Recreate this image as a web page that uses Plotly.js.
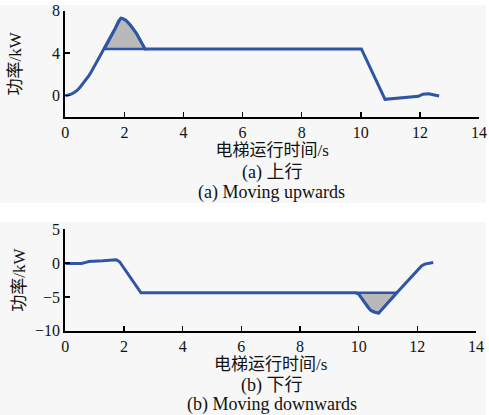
<!DOCTYPE html>
<html>
<head>
<meta charset="utf-8">
<script src="https://cdn.plot.ly/plotly-3.0.1.min.js"></script>
<style>html,body{margin:0;padding:0;background:#fff;}#chart{width:489px;height:415px;}</style>
</head>
<body>
<div id="chart"></div>
<script>
// (a) Moving upwards: time (s) and power (kW)
const upTime  = [0, 0.1, 0.2, 0.3, 0.4, 0.5, 0.6, 0.7, 0.8, 0.9, 1.0, 1.1, 1.2, 1.34, 1.5, 1.6, 1.7, 1.8, 1.88, 1.95, 2.05, 2.2, 2.3, 2.4, 2.5, 2.6, 2.7,
                 4, 6, 8, 10.02, 10.82, 11.0, 11.2, 11.5, 11.77, 11.95, 12.1, 12.2, 12.3, 12.45, 12.65];
const upPower = [0, 0.05, 0.15, 0.3, 0.5, 0.8, 1.15, 1.5, 1.9, 2.35, 2.85, 3.35, 3.85, 4.45, 5.3, 5.85, 6.4, 7.0, 7.3, 7.25, 7.1, 6.65, 6.3, 5.9, 5.4, 4.85, 4.4,
                 4.4, 4.4, 4.4, 4.4, -0.34, -0.3, -0.25, -0.2, -0.15, -0.05, 0.15, 0.2, 0.18, 0.1, -0.03];
const upRated = 4.4;
const upShade = [1.34, 2.7];

// (b) Moving downwards
const downTime  = [0, 0.55, 0.7, 0.8, 1.28, 1.74, 1.85, 2.58, 4, 6, 8, 9.9, 10.0, 10.1, 10.2, 10.3, 10.4, 10.5, 10.6, 10.68,
                   11.3, 11.97, 12.05, 12.15, 12.25, 12.4, 12.54];
const downPower = [-0.05, -0.05, 0.1, 0.24, 0.34, 0.49, 0.2, -4.4, -4.4, -4.4, -4.4, -4.4, -4.6, -5.2, -5.9, -6.5, -6.95, -7.2, -7.35, -7.4,
                   -4.4, -1.14, -0.75, -0.4, -0.15, 0.02, 0.09];
const downRated = -4.4;
const downShade = [9.9, 11.3];

const xTicks = [0, 2, 4, 6, 8, 10, 12, 14];
const upTicks = [0, 4, 8];
const downTicks = [-10, -5, 0, 5];

const xTitle = '电梯运行时间/s';
const yTitle = '功率/kW';
const capA1 = '(a) 上行', capA2 = '(a) Moving upwards';
const capB1 = '(b) 下行', capB2 = '(b) Moving downwards';

const BLUE = '#2f55a5', GRAY = '#b9b9b9';

function shadePoly(xs, ys, range, base) {
  const px = [], py = [];
  for (let i = 0; i < xs.length; i++) {
    if (xs[i] >= range[0] && xs[i] <= range[1]) { px.push(xs[i]); py.push(ys[i]); }
  }
  px.push(range[1], range[0]); py.push(base, base);
  return {x: px, y: py};
}
const sA = shadePoly(upTime, upPower, upShade, upRated);
const sB = shadePoly(downTime, downPower, downShade, downRated);

const traces = [
  {x: sA.x, y: sA.y, xaxis: 'x', yaxis: 'y', mode: 'lines', fill: 'toself', fillcolor: GRAY,
   line: {color: BLUE, width: 2.5}, hoverinfo: 'skip', showlegend: false},
  {x: upTime, y: upPower, xaxis: 'x', yaxis: 'y', mode: 'lines', line: {color: BLUE, width: 3}, showlegend: false},
  {x: sB.x, y: sB.y, xaxis: 'x2', yaxis: 'y2', mode: 'lines', fill: 'toself', fillcolor: GRAY,
   line: {color: BLUE, width: 2.5}, hoverinfo: 'skip', showlegend: false},
  {x: downTime, y: downPower, xaxis: 'x2', yaxis: 'y2', mode: 'lines', line: {color: BLUE, width: 3}, showlegend: false}
];

const tickFont = {family: 'Liberation Serif, Times New Roman, serif', size: 16, color: '#111'};
const titleFont = {family: 'Liberation Serif, Noto Sans CJK SC, serif', size: 17, color: '#111'};
const capFont = {family: 'Liberation Serif, Noto Sans CJK SC, serif', size: 18, color: '#111'};

const xBase = {range: [0, 14], tickvals: xTicks, ticks: 'inside', ticklen: 5, tickwidth: 1.5, tickcolor: '#000',
  showline: true, linecolor: '#000', linewidth: 2, showgrid: false, zeroline: false, tickfont: tickFont,
  fixedrange: true};
const yBase = {ticks: 'inside', ticklen: 5, tickwidth: 1.5, tickcolor: '#000', showline: true, linecolor: '#000',
  linewidth: 2, showgrid: false, zeroline: false, tickfont: tickFont, fixedrange: true};

const layout = {
  width: 489, height: 415,
  margin: {l: 0, r: 0, t: 0, b: 0},
  paper_bgcolor: '#ffffff', plot_bgcolor: 'rgba(0,0,0,0)',
  showlegend: false,
  xaxis: Object.assign({}, xBase, {domain: [0.1335, 0.9796], anchor: 'y',
    title: {text: xTitle, font: titleFont, standoff: 4}}),
  yaxis: Object.assign({}, yBase, {domain: [0.7181, 0.9742], range: [-2, 8], tickvals: upTicks, anchor: 'x',
    title: {text: yTitle, font: titleFont, standoff: 26}}),
  xaxis2: Object.assign({}, xBase, {domain: [0.1335, 0.9735], anchor: 'y2',
    title: {text: xTitle, font: titleFont, standoff: 4}}),
  yaxis2: Object.assign({}, yBase, {domain: [0.2031, 0.4475], range: [-10, 5], tickvals: downTicks, anchor: 'x2',
    title: {text: yTitle, font: titleFont, standoff: 5}}),
  shapes: [
    {type: 'rect', xref: 'paper', yref: 'paper', x0: 0, x1: 0.994, y0: 0.511, y1: 0.988,
     fillcolor: '#f7f7f7', line: {width: 0}, layer: 'below'},
    {type: 'rect', xref: 'paper', yref: 'paper', x0: 0, x1: 0.994, y0: 0, y1: 0.465,
     fillcolor: '#f7f7f7', line: {width: 0}, layer: 'below'}
  ],
  annotations: [
    {text: capA1, xref: 'paper', yref: 'paper', x: 0.556, y: 1 - 172/415, showarrow: false, font: capFont, xanchor: 'center', yanchor: 'middle'},
    {text: capA2, xref: 'paper', yref: 'paper', x: 0.556, y: 1 - 193/415, showarrow: false, font: capFont, xanchor: 'center', yanchor: 'middle'},
    {text: capB1, xref: 'paper', yref: 'paper', x: 0.556, y: 1 - 385/415, showarrow: false, font: capFont, xanchor: 'center', yanchor: 'middle'},
    {text: capB2, xref: 'paper', yref: 'paper', x: 0.556, y: 1 - 404/415, showarrow: false, font: capFont, xanchor: 'center', yanchor: 'middle'}
  ]
};

Plotly.newPlot('chart', traces, layout, {displayModeBar: false, staticPlot: true});
</script>
</body>
</html>
